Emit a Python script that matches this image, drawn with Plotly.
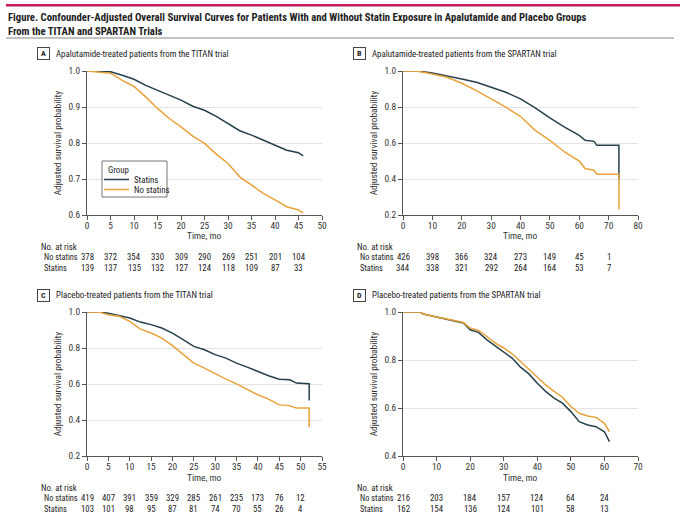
import plotly.graph_objects as go

# survival curves (time in months, adjusted survival probability)
a_t_statins = [0, 3, 5, 7.5, 10, 12.5, 15, 17.5, 20, 22.5, 25, 27.5, 30, 32.5, 35, 37.5, 40, 42.5, 45, 46]
a_s_statins = [1.0, 1.0, 0.998, 0.988, 0.977, 0.96, 0.946, 0.933, 0.919, 0.902, 0.891, 0.874, 0.854, 0.834, 0.822, 0.808, 0.792, 0.78, 0.773, 0.764]
a_t_nostatins = [0, 2.5, 5, 7.5, 10, 12.5, 15, 17.5, 20, 22.5, 25, 27.5, 30, 32.5, 35, 37.5, 40, 42.5, 45, 46]
a_s_nostatins = [1.0, 0.998, 0.994, 0.974, 0.957, 0.928, 0.896, 0.868, 0.845, 0.819, 0.799, 0.769, 0.743, 0.706, 0.683, 0.66, 0.642, 0.623, 0.614, 0.605]

b_t_statins = [0, 5, 10, 15, 20, 25, 30, 35, 40, 45, 50, 55, 60, 62, 65, 66, 73.5, 73.5]
b_s_statins = [1.0, 1.0, 0.989, 0.974, 0.956, 0.937, 0.91, 0.882, 0.845, 0.795, 0.74, 0.688, 0.642, 0.615, 0.609, 0.587, 0.587, 0.397]
b_t_nostatins = [0, 5, 10, 15, 20, 25, 30, 35, 40, 45, 50, 55, 60, 62, 65, 66, 73.5, 73.5]
b_s_nostatins = [1.0, 0.999, 0.983, 0.965, 0.932, 0.891, 0.845, 0.799, 0.747, 0.67, 0.615, 0.55, 0.499, 0.458, 0.449, 0.427, 0.427, 0.231]

c_t_statins = [0, 3, 5, 7.5, 10, 12.5, 15, 17.5, 20, 22.5, 25, 27.5, 30, 32.5, 35, 37.5, 40, 42.5, 45, 47.5, 49, 52, 52]
c_s_statins = [1.0, 1.0, 0.993, 0.981, 0.967, 0.944, 0.93, 0.911, 0.883, 0.846, 0.809, 0.79, 0.763, 0.744, 0.716, 0.694, 0.67, 0.646, 0.627, 0.623, 0.605, 0.601, 0.508]
c_t_nostatins = [0, 3, 5, 7.5, 10, 12.5, 15, 17.5, 20, 22.5, 25, 27.5, 30, 32.5, 35, 37.5, 40, 42.5, 45, 47.5, 49, 52, 52]
c_s_nostatins = [1.0, 0.998, 0.985, 0.976, 0.948, 0.905, 0.883, 0.855, 0.813, 0.763, 0.716, 0.688, 0.657, 0.627, 0.601, 0.571, 0.54, 0.516, 0.484, 0.479, 0.466, 0.466, 0.36]

d_t = [0, 5, 6, 10, 15, 18, 20, 22.5, 25, 27.5, 30, 32.5, 35, 37.5, 40, 42.5, 45, 47.5, 50, 52.5, 55, 57.5, 60, 61.5]
d_s_statins = [1.0, 1.0, 0.992, 0.979, 0.965, 0.954, 0.926, 0.915, 0.884, 0.859, 0.836, 0.808, 0.77, 0.742, 0.703, 0.669, 0.641, 0.62, 0.585, 0.543, 0.529, 0.522, 0.501, 0.46]
d_s_nostatins = [1.0, 1.0, 0.992, 0.979, 0.966, 0.956, 0.933, 0.923, 0.898, 0.87, 0.85, 0.826, 0.794, 0.762, 0.728, 0.696, 0.669, 0.645, 0.606, 0.578, 0.567, 0.561, 0.536, 0.501]

# numbers at risk
a_risk_t = [0, 5, 10, 15, 20, 25, 30, 35, 40, 45]
a_risk_no = [378, 372, 354, 330, 309, 290, 269, 251, 201, 104]
a_risk_yes = [139, 137, 135, 132, 127, 124, 118, 109, 87, 33]
b_risk_t = [0, 10, 20, 30, 40, 50, 60, 70]
b_risk_no = [426, 398, 366, 324, 273, 149, 45, 1]
b_risk_yes = [344, 338, 321, 292, 264, 164, 53, 7]
c_risk_t = [0, 5, 10, 15, 20, 25, 30, 35, 40, 45, 50]
c_risk_no = [419, 407, 391, 359, 329, 285, 261, 235, 173, 76, 12]
c_risk_yes = [103, 101, 98, 95, 87, 81, 74, 70, 55, 26, 4]
d_risk_t = [0, 10, 20, 30, 40, 50, 60]
d_risk_no = [216, 203, 184, 157, 124, 64, 24]
d_risk_yes = [162, 154, 136, 124, 101, 58, 13]

DARK = "#25404b"
ORANGE = "#e9a23b"
FONT = "Roboto Condensed, Arial Narrow, Liberation Sans Narrow, Roboto, sans-serif"
W, H = 680, 520


def px(x):
    return x / W


def py(y):
    return 1 - y / H


fig = go.Figure()

panels = [
    # letter, title, axes, curves, risk table, xrange, xdtick, yrange, ydtick, left px, top px
    ("A", "Apalutamide-treated patients from the TITAN trial", "x", "y",
     (a_t_statins, a_s_statins, a_t_nostatins, a_s_nostatins),
     (a_risk_t, a_risk_no, a_risk_yes), [0, 50], 5, [0.6, 1.0], 0.1, 87, 71),
    ("B", "Apalutamide-treated patients from the SPARTAN trial", "x2", "y2",
     (b_t_statins, b_s_statins, b_t_nostatins, b_s_nostatins),
     (b_risk_t, b_risk_no, b_risk_yes), [0, 80], 10, [0.2, 1.0], 0.2, 403, 71),
    ("C", "Placebo-treated patients from the TITAN trial", "x3", "y3",
     (c_t_statins, c_s_statins, c_t_nostatins, c_s_nostatins),
     (c_risk_t, c_risk_no, c_risk_yes), [0, 55], 5, [0.2, 1.0], 0.2, 87, 312),
    ("D", "Placebo-treated patients from the SPARTAN trial", "x4", "y4",
     (d_t, d_s_statins, d_t, d_s_nostatins),
     (d_risk_t, d_risk_no, d_risk_yes), [0, 70], 10, [0.4, 1.0], 0.2, 403, 312),
]

PW, PH = 235, 144
TXT = dict(family=FONT, size=8.8, color="#222")
LAB = dict(family=FONT, size=8.3, color="#222")
AX = dict(family=FONT, size=9.4, color="#333")
annotations = []
shapes = []


def note(text, x, y, xref="paper", **kw):
    # explicit anchors: 'auto' anchoring shifts paper-referenced notes near the edges
    d = dict(text=text, x=x, y=y, xref=xref, yref="paper", showarrow=False, font=TXT,
             xanchor="center", yanchor="middle")
    d.update(kw)
    annotations.append(d)


for i, (letter, title, xa, ya, curves, risk, xr, xd, yr, yd, left, top) in enumerate(panels):
    t1, s1, t2, s2 = curves
    fig.add_trace(go.Scatter(x=t1, y=s1, mode="lines", name="Statins", xaxis=xa, yaxis=ya,
                             line=dict(color=DARK, width=1.5), showlegend=False))
    fig.add_trace(go.Scatter(x=t2, y=s2, mode="lines", name="No statins", xaxis=xa, yaxis=ya,
                             line=dict(color=ORANGE, width=1.5), showlegend=False))

    suffix = "" if i == 0 else str(i + 1)
    axis_common = dict(showline=True, linecolor="#555", linewidth=1, ticks="outside",
                       ticklen=4, tickcolor="#555", tickfont=AX, zeroline=False, automargin=False)
    fig.layout["xaxis" + suffix] = dict(
        domain=[px(left), px(left + PW)], range=xr, dtick=xd, tick0=0, showgrid=False,
        anchor=ya, ticklabelstandoff=-2, **axis_common)
    fig.layout["yaxis" + suffix] = dict(
        domain=[py(top + PH), py(top)], range=yr, dtick=yd, tick0=0, tickformat=".1f",
        showgrid=True, gridcolor="#e3e3e3", gridwidth=1, anchor=xa,
        title=dict(text="Adjusted survival probability", font=AX, standoff=5), **axis_common)

    # x axis title
    note("Time, mo", px(left + PW / 2), py(top + PH + 21), font=AX)

    # panel letter in a box + panel title
    bx = left - 49
    note("<b>" + letter + "</b>", px(bx + 5.5), py(top - 17), bordercolor="#444", borderwidth=1,
         borderpad=1.5, width=8, height=8, font=dict(family=FONT, size=8, color="#222"))
    note(title, px(bx + 16), py(top - 17), xanchor="left", font=dict(family=FONT, size=8.9, color="#222"))

    # number at risk table
    rt, rno, ryes = risk
    tab_top = top + 175.5
    note("No. at risk", px(left - 48), py(tab_top), xanchor="left")
    note("No statins", px(left - 45), py(tab_top + 10.5), xanchor="left", font=LAB)
    note("Statins", px(left - 45), py(tab_top + 21), xanchor="left", font=LAB)
    for t, n1, n2 in zip(rt, rno, ryes):
        note(str(n1), t, py(tab_top + 10.5), xref=xa)
        note(str(n2), t, py(tab_top + 21), xref=xa)

# legend drawn inside panel A
shapes.append(dict(type="rect", xref="paper", yref="paper", x0=px(102), x1=px(167), y0=py(197), y1=py(161),
                   line=dict(color="#777", width=1), fillcolor="white", layer="above"))
note("Group", px(106), py(170), xanchor="left")
for label, colour, yy in [("Statins", DARK, 179.5), ("No statins", ORANGE, 189.5)]:
    shapes.append(dict(type="line", xref="paper", yref="paper", x0=px(104), x1=px(129), y0=py(yy), y1=py(yy),
                       line=dict(color=colour, width=1.5)))
    note(label, px(132), py(yy), xanchor="left")

# figure title and rules
note("<b>Figure. Confounder-Adjusted Overall Survival Curves for Patients With and Without Statin Exposure in Apalutamide and Placebo Groups</b><br><b>From the TITAN and SPARTAN Trials</b>",
     px(6), py(9), xanchor="left", yanchor="top", align="left",
     font=dict(family=FONT, size=10.7, color="#222"))
shapes.append(dict(type="rect", xref="paper", yref="paper", x0=px(6), x1=1, y0=py(6.5), y1=py(4),
                   line=dict(width=0), fillcolor="#c4195e", layer="above"))
shapes.append(dict(type="line", xref="paper", yref="paper", x0=px(6), x1=px(674), y0=py(38), y1=py(38),
                   line=dict(color="#888", width=1)))

fig.update_layout(
    width=W, height=H, margin=dict(l=0, r=0, t=0, b=0, pad=0, autoexpand=False),
    paper_bgcolor="white", plot_bgcolor="white",
    font=dict(family=FONT, size=10, color="#333"),
    annotations=annotations, shapes=shapes, showlegend=False,
)

fig.write_html("out.html", config={"displayModeBar": False},
               post_script="document.body.style.margin='0';document.body.style.overflow='hidden';")
